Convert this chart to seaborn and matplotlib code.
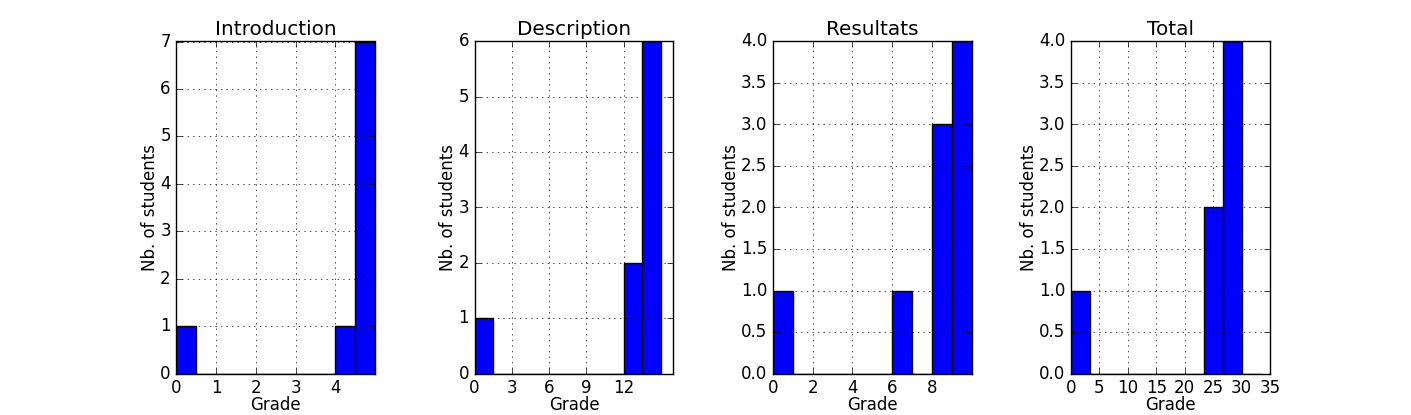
import numpy as np
import pandas as pd
import matplotlib
matplotlib.use("Agg")
import matplotlib.pyplot as plt
import seaborn as sns

# Histogrammes des notes par partie du rapport

titres = ["Introduction", "Description", "Resultats", "Total"]

intro_bins = [0, 0.5, 1.0, 1.5, 2.0, 2.5, 3.0, 3.5, 4.0, 4.5, 5.0]
intro_counts = [1, 0, 0, 0, 0, 0, 0, 0, 1, 7]

desc_bins = [0, 1.5, 3.0, 4.5, 6.0, 7.5, 9.0, 10.5, 12.0, 13.5, 15.0]
desc_counts = [1, 0, 0, 0, 0, 0, 0, 0, 2, 6]

res_bins = [0, 1, 2, 3, 4, 5, 6, 7, 8, 9, 10]
res_counts = [1, 0, 0, 0, 0, 0, 1, 0, 3, 4]

total_bins = [0, 3.35, 6.7, 10.05, 13.4, 16.75, 20.1, 23.45, 26.8, 30.15, 33.5]
total_counts = [1, 0, 0, 0, 0, 0, 0, 2, 4, 0]

xlims = [(0, 5), (0, 16), (0, 10), (0, 35)]
xticks = [[0, 1, 2, 3, 4], [0, 3, 6, 9, 12], [0, 2, 4, 6, 8],
          [0, 5, 10, 15, 20, 25, 30, 35]]
ylims = [(0, 7), (0, 6), (0, 4), (0, 4)]

plt.style.use("classic")
plt.rcParams['font.family'] = ['DejaVu Sans']

fig, axes = plt.subplots(1, 4, figsize=(14.11, 4.15), dpi=100)
fig.patch.set_facecolor("white")
fig.subplots_adjust(left=0.125, right=0.9, bottom=0.1, top=0.9, wspace=0.5)

donnees = [(intro_bins, intro_counts), (desc_bins, desc_counts),
           (res_bins, res_counts), (total_bins, total_counts)]

for i, (bins, counts) in enumerate(donnees):
    ax = axes[i]
    edges = np.array(bins, dtype=float)
    df = pd.DataFrame({"note": (edges[:-1] + edges[1:]) / 2,
                       "nb": counts})
    sns.histplot(data=df, x="note", weights="nb", bins=list(edges), ax=ax,
                 color="#0000ff", edgecolor="black", linewidth=1, alpha=1)
    ax.set_xlim(*xlims[i])
    ax.set_xticks(xticks[i])
    ax.set_ylim(*ylims[i])
    ax.grid(True)
    ax.set_axisbelow(False)
    ax.set_title(titres[i], fontsize=14.4)
    ax.set_xlabel("Grade", fontsize=12, labelpad=-1)
    ax.set_ylabel("Nb. of students", fontsize=12, labelpad=1)
    ax.tick_params(labelsize=12)

fig.savefig("out.png", dpi=100, facecolor="white")
